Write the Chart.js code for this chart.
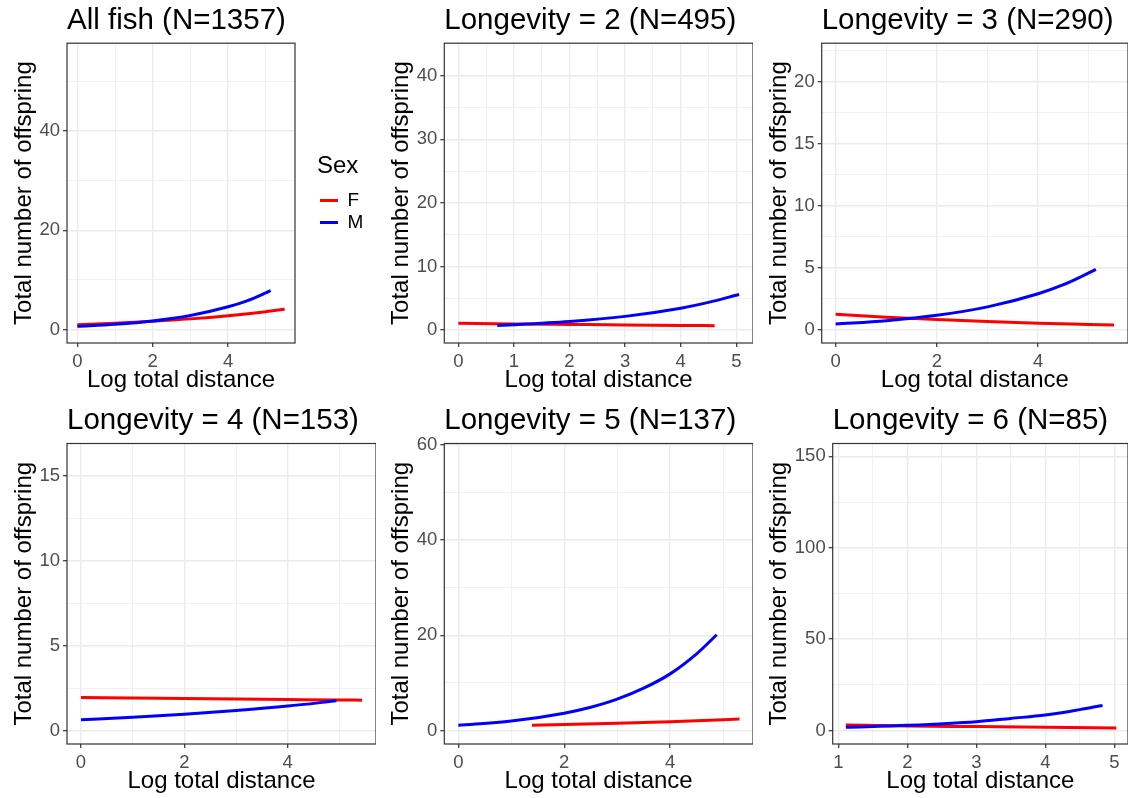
<!DOCTYPE html>
<html>
<head>
<meta charset="utf-8">
<script src="https://cdn.jsdelivr.net/npm/chart.js@4.4.1/dist/chart.umd.min.js"></script>
<style>
  html, body { margin: 0; padding: 0; background: #fff; }
  #fig { position: relative; width: 1128px; height: 798px; overflow: hidden; background: #fff; }
  #fig canvas { position: absolute; }
</style>
</head>
<body>
<div id="fig"></div>
<script>
// titles
const titles = [
  "All fish (N=1357)",
  "Longevity = 2 (N=495)",
  "Longevity = 3 (N=290)",
  "Longevity = 4 (N=153)",
  "Longevity = 5 (N=137)",
  "Longevity = 6 (N=85)"
];
const sexLabels = ["F", "M"];

// All fish
const allFx = [0, 1, 2, 3, 4, 5, 5.5];
const allFy = [1.0, 1.29, 1.67, 2.16, 2.8, 3.6, 4.1];
const allMx = [0, 1, 2, 3, 4, 4.5, 5, 5.13];
const allMy = [0.67, 1.08, 1.75, 2.85, 4.6, 5.8, 7.4, 7.85];

// Longevity = 2
const lon2Fx = [0, 1, 2, 3, 4, 4.61];
const lon2Fy = [1.05, 0.96, 0.88, 0.8, 0.73, 0.68];
const lon2Mx = [0.7, 1, 2, 3, 4, 4.5, 5.05];
const lon2My = [0.73, 0.84, 1.34, 2.15, 3.44, 4.35, 5.6];

// Longevity = 3
const lon3Fx = [0, 1, 2, 3, 4, 5, 5.5];
const lon3Fy = [1.27, 1.03, 0.84, 0.68, 0.55, 0.45, 0.4];
const lon3Mx = [0, 1, 2, 3, 4, 4.5, 5, 5.14];
const lon3My = [0.48, 0.75, 1.18, 1.86, 2.92, 3.65, 4.6, 4.88];

// Longevity = 4
const lon4Fx = [0, 1, 2, 3, 4, 5, 5.44];
const lon4Fy = [1.96, 1.93, 1.9, 1.87, 1.84, 1.81, 1.8];
const lon4Mx = [0, 1, 2, 3, 4, 4.94];
const lon4My = [0.65, 0.79, 0.97, 1.19, 1.45, 1.76];

// Longevity = 5
const lon5Fx = [1.39, 2, 3, 4, 5, 5.31];
const lon5Fy = [1.12, 1.27, 1.55, 1.88, 2.3, 2.45];
const lon5Mx = [0, 1, 2, 2.5, 3, 3.5, 4, 4.5, 4.88];
const lon5My = [1.12, 2.0, 3.65, 4.9, 6.6, 8.9, 11.9, 16.1, 20.1];

// Longevity = 6
const lon6Fx = [1.11, 2, 3, 4, 5.03];
const lon6Fy = [3.1, 2.6, 2.2, 1.8, 1.46];
const lon6Mx = [1.11, 2, 3, 3.5, 4, 4.5, 4.83];
const lon6My = [1.82, 2.9, 4.9, 6.7, 8.5, 11.5, 13.8];

// tick values (major get labels, minor only grid lines)
const xTicks02 = [0, 2, 4], xMinor02 = [1, 3, 5];
const xTicks01 = [0, 1, 2, 3, 4, 5], xMinor01 = [0.5, 1.5, 2.5, 3.5, 4.5];
const xTicks15 = [1, 2, 3, 4, 5], xMinor15 = [1.5, 2.5, 3.5, 4.5];
const yTicksAll = [0, 20, 40], yMinorAll = [10, 30, 50];
const yTicks2 = [0, 10, 20, 30, 40], yMinor2 = [5, 15, 25, 35];
const yTicks3 = [0, 5, 10, 15, 20], yMinor3 = [2.5, 7.5, 12.5, 17.5, 22.5];
const yTicks4 = [0, 5, 10, 15], yMinor4 = [2.5, 7.5, 12.5];
const yTicks5 = [0, 20, 40, 60], yMinor5 = [10, 30, 50];
const yTicks6 = [0, 50, 100, 150], yMinor6 = [25, 75, 125];

const X_TITLE = "Log total distance";
const Y_TITLE = "Total number of offspring";

Chart.defaults.font.family = "'Liberation Sans', Arial, Helvetica, sans-serif";
Chart.defaults.color = "#4D4D4D";
Chart.defaults.animation = false;

function pts(xs, ys) {
  return xs.map((x, i) => ({ x: x, y: ys[i] }));
}

// box round the panel, like theme_bw
const panelBorder = {
  id: "panelBorder",
  afterDraw(chart) {
    const { ctx, chartArea: a } = chart;
    ctx.save();
    ctx.strokeStyle = "#333333";
    ctx.lineWidth = 1.2;
    ctx.strokeRect(a.left, a.top, a.right - a.left, a.bottom - a.top);
    ctx.restore();
  }
};

function axis(min, max, major, minor, pad, extra) {
  const isMajor = (v) => major.includes(v);
  return Object.assign({
    type: "linear",
    min: min,
    max: max,
    afterBuildTicks: (s) => {
      s.ticks = major.concat(minor).sort((a, b) => a - b).map((v) => ({ value: v }));
    },
    ticks: {
      autoSkip: false,
      maxRotation: 0,
      minRotation: 0,
      padding: pad,
      color: "#4D4D4D",
      font: { size: 18.5 },
      callback: (v) => (isMajor(v) ? String(v) : "")
    },
    grid: {
      color: "#EBEBEB",
      lineWidth: (c) => (c.tick && isMajor(c.tick.value) ? 1.4 : 0.7),
      tickColor: (c) => (c.tick && isMajor(c.tick.value) ? "#333333" : "rgba(0,0,0,0)"),
      tickLength: 4,
      tickWidth: 1.2,
      drawTicks: true
    },
    border: { display: false }
  }, extra);
}

const panels = [
  { pos: [6, 0, 361, 400], yW: 61, xH: 57, tPad: [3.4, 4.4], xPad: 5.6, legend: true,
    x: [-0.275, 5.775, xTicks02, xMinor02], y: [-2.7, 57.7, yTicksAll, yMinorAll],
    F: [allFx, allFy], M: [allMx, allMy] },
  { pos: [383, 0, 370, 400], yW: 61.3, xH: 57, tPad: [3.4, 4.4], xPad: 5.6,
    x: [-0.252, 5.3, xTicks01, xMinor01], y: [-2.04, 45.14, yTicks2, yMinor2],
    F: [lon2Fx, lon2Fy], M: [lon2Mx, lon2My] },
  { pos: [761, 0, 367, 400], yW: 60.7, xH: 57, tPad: [3.4, 4.4], xPad: 5.6,
    x: [-0.275, 5.775, xTicks02, xMinor02], y: [-1.05, 23.12, yTicks3, yMinor3],
    F: [lon3Fx, lon3Fy], M: [lon3Mx, lon3My] },
  { pos: [6, 400, 370, 398], yW: 61, xH: 54, tPad: [3.4, 4.7], xPad: 2.1,
    x: [-0.271, 5.708, xTicks02, xMinor02], y: [-0.78, 16.9, yTicks4, yMinor4],
    F: [lon4Fx, lon4Fy], M: [lon4Mx, lon4My] },
  { pos: [383, 400, 370, 398], yW: 61.3, xH: 54, tPad: [3.4, 4.7], xPad: 2.1,
    x: [-0.265, 5.565, xTicks02, xMinor02], y: [-2.8, 60.2, yTicks5, yMinor5],
    F: [lon5Fx, lon5Fy], M: [lon5Mx, lon5My] },
  { pos: [761, 400, 367, 398], yW: 71.7, xH: 54, tPad: [3.4, 4.7], xPad: 2.1,
    x: [0.919, 5.199, xTicks15, xMinor15], y: [-7.3, 157, yTicks6, yMinor6],
    F: [lon6Fx, lon6Fy], M: [lon6Mx, lon6My] }
];

const fig = document.getElementById("fig");

panels.forEach((p, i) => {
  const cv = document.createElement("canvas");
  cv.width = p.pos[2];
  cv.height = p.pos[3];
  cv.style.left = p.pos[0] + "px";
  cv.style.top = p.pos[1] + "px";
  cv.style.width = p.pos[2] + "px";
  cv.style.height = p.pos[3] + "px";
  fig.appendChild(cv);

  const scales = {
    x: axis(p.x[0], p.x[1], p.x[2], p.x[3], 4, {
      position: "bottom",
      afterFit: (s) => { s.height = p.xH; },
      title: { display: true, text: X_TITLE, color: "#000", font: { size: 24 }, padding: { top: 0, bottom: p.xPad } }
    }),
    y: axis(p.y[0], p.y[1], p.y[2], p.y[3], 3, {
      position: "left",
      afterFit: (s) => { s.width = p.yW; },
      title: { display: true, text: Y_TITLE, color: "#000", font: { size: 24 }, padding: { top: 4, bottom: 0 } }
    })
  };
  if (p.legend) {
    // empty strip between panel and legend
    scales.gap = {
      type: "linear", position: "right", display: true,
      grid: { display: false }, border: { display: false }, ticks: { display: false },
      afterFit: (s) => { s.width = 22; }
    };
  }

  new Chart(cv, {
    type: "line",
    data: {
      datasets: [
        {
          label: sexLabels[0],
          data: pts(p.F[0], p.F[1]),
          borderColor: "#FF0000",
          backgroundColor: "#FF0000",
          borderWidth: 3,
          pointRadius: 0,
          cubicInterpolationMode: "monotone",
          order: 1
        },
        {
          label: sexLabels[1],
          data: pts(p.M[0], p.M[1]),
          borderColor: "#0000FF",
          backgroundColor: "#0000FF",
          borderWidth: 3,
          pointRadius: 0,
          cubicInterpolationMode: "monotone",
          order: 0
        }
      ]
    },
    plugins: [panelBorder],
    options: {
      responsive: false,
      animation: false,
      layout: { padding: 0 },
      plugins: {
        tooltip: { enabled: false },
        title: {
          display: true,
          text: titles[i],
          align: "start",
          fullSize: false,
          color: "#000",
          font: { size: 29.5, weight: "normal" },
          padding: { top: p.tPad[0], bottom: p.tPad[1] }
        },
        legend: p.legend ? {
          display: true,
          position: "right",
          align: "start",
          maxWidth: 50,
          title: { display: true, text: "Sex", position: "start", color: "#000", font: { size: 24 }, padding: { top: 154, bottom: 5.2 } },
          labels: {
            usePointStyle: true,
            pointStyle: "line",
            pointStyleWidth: 18,
            boxHeight: 19,
            color: "#000",
            font: { size: 19 },
            padding: 3,
            sort: (a, b) => a.datasetIndex - b.datasetIndex
          }
        } : { display: false }
      },
      scales: scales
    }
  });
});
</script>
</body>
</html>
